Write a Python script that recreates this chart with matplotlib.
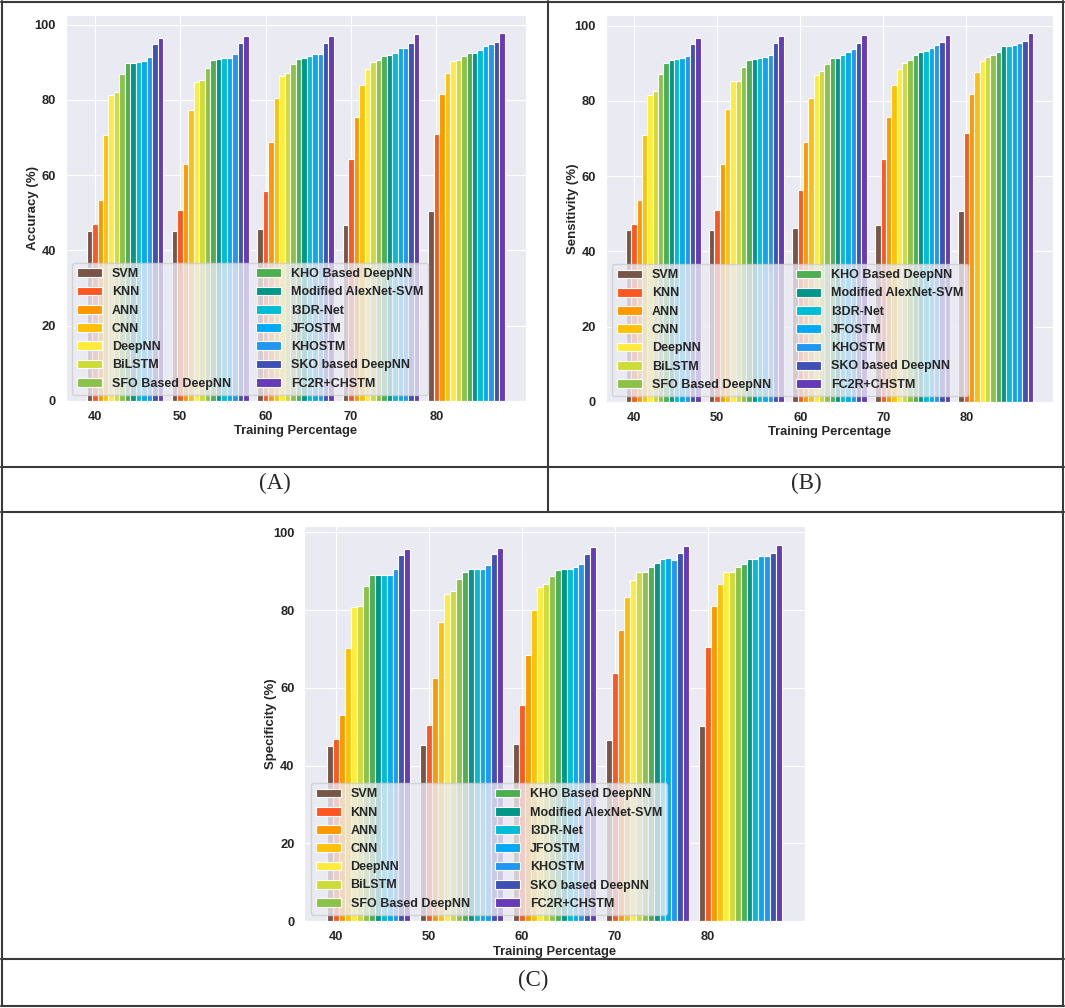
import matplotlib
matplotlib.use("Agg")
import matplotlib.pyplot as plt
import seaborn as sns
import numpy as np
from matplotlib.lines import Line2D

sns.set_style("darkgrid")
plt.rcParams['font.family'] = ['Liberation Sans', 'DejaVu Sans']

training = [40, 50, 60, 70, 80]
methods = ["SVM", "KNN", "ANN", "CNN", "DeepNN", "BiLSTM", "SFO Based DeepNN",
           "KHO Based DeepNN", "Modified AlexNet-SVM", "I3DR-Net", "JFOSTM",
           "KHOSTM", "SKO based DeepNN", "FC2R+CHSTM"]
colors = ["#795548", "#FF5722", "#FF9800", "#FFC107", "#FFEB3B", "#CDDC39",
          "#8BC34A", "#4CAF50", "#009688", "#00BCD4", "#03A9F4", "#2196F3",
          "#3F51B5", "#673AB7"]

# rows: methods, columns: training percentage 40..80
accuracy = [
    [45.2, 45.3, 45.7, 46.7, 50.4],
    [47.1, 50.7, 55.9, 64.3, 71.0],
    [53.3, 62.9, 68.9, 75.5, 81.6],
    [70.6, 77.4, 80.5, 83.9, 87.3],
    [81.3, 84.9, 86.5, 88.2, 90.3],
    [82.0, 85.2, 87.2, 90.0, 90.7],
    [86.9, 88.6, 89.5, 90.5, 91.8],
    [89.7, 90.5, 91.0, 91.8, 92.6],
    [89.8, 90.8, 91.2, 92.0, 92.6],
    [90.2, 91.1, 91.7, 92.4, 93.4],
    [90.3, 91.2, 92.2, 93.8, 94.4],
    [91.5, 92.1, 92.1, 93.8, 94.8],
    [94.9, 95.2, 95.2, 95.2, 95.5],
    [96.4, 96.9, 97.0, 97.6, 97.7],
]
sensitivity = [
    [45.6, 45.7, 46.1, 47.1, 50.8],
    [47.4, 51.0, 56.2, 64.6, 71.4],
    [53.7, 63.1, 69.1, 75.8, 81.9],
    [71.0, 77.7, 80.8, 84.1, 87.7],
    [81.6, 85.2, 86.8, 88.5, 90.6],
    [82.7, 85.2, 87.9, 90.0, 91.6],
    [87.2, 88.9, 89.8, 90.8, 92.2],
    [90.0, 90.9, 91.4, 92.1, 92.9],
    [90.9, 91.0, 91.5, 93.0, 94.5],
    [91.2, 91.3, 92.3, 93.1, 94.5],
    [91.4, 91.6, 93.0, 94.0, 94.8],
    [91.8, 92.3, 93.8, 94.7, 95.3],
    [95.2, 95.4, 95.4, 95.5, 95.8],
    [96.7, 97.2, 97.6, 97.6, 97.9],
]
specificity = [
    [45.0, 45.2, 45.6, 46.6, 50.2],
    [46.9, 50.4, 55.6, 63.9, 70.6],
    [53.0, 62.4, 68.5, 75.0, 81.1],
    [70.2, 76.9, 80.0, 83.3, 86.8],
    [80.8, 84.2, 86.0, 87.7, 89.8],
    [81.1, 84.8, 86.8, 89.9, 89.9],
    [86.2, 88.0, 88.9, 89.9, 91.2],
    [89.0, 89.9, 90.3, 91.1, 91.9],
    [89.0, 90.5, 90.5, 92.2, 93.2],
    [89.0, 90.5, 90.5, 93.1, 93.2],
    [89.0, 90.7, 91.2, 93.4, 93.9],
    [90.5, 91.7, 91.8, 92.8, 93.9],
    [94.2, 94.5, 94.5, 94.6, 94.8],
    [95.7, 96.1, 96.3, 96.5, 96.8],
]

W, H = 1065, 1008
fig = plt.figure(figsize=(W / 100, H / 100), dpi=100)
fig.patch.set_facecolor("white")


def px_axes(l, t, r, b):
    return fig.add_axes([l / W, 1 - b / H, (r - l) / W, (b - t) / H])


bar_w = 0.64
x = np.array(training, dtype=float)


def draw(ax, data, ylabel):
    for i, (name, col) in enumerate(zip(methods, colors)):
        ax.bar(x + (i - 1) * bar_w, data[i], width=bar_w, color=col,
               label=name, edgecolor="white", linewidth=0.8)
    ax.set_xticks(training)
    ax.set_xticklabels([str(t) for t in training], fontsize=9.3,
                       fontweight="bold")
    ax.set_yticks([0, 20, 40, 60, 80, 100])
    ax.set_yticklabels(["0", "20", "40", "60", "80", "100"], fontsize=9.3,
                       fontweight="bold")
    ax.set_xlabel("Training Percentage", fontsize=9.3, fontweight="bold",
                  labelpad=2)
    ax.set_ylabel(ylabel, fontsize=9.5, fontweight="bold", labelpad=-3)
    ax.legend(loc="lower left", ncol=2, prop={"size": 9, "weight": "bold"})


axA = px_axes(65.7, 15, 525.7, 401)
draw(axA, accuracy, "Accuracy (%)")
axB = px_axes(605.7, 15, 1053.3, 402)
draw(axB, sensitivity, "Sensitivity (%)")
axC = px_axes(304.3, 526, 805, 921)
draw(axC, specificity, "Specificity (%)")

# table frame
lc = "#3a3a3a"
lw = 1.5


def hline(y, x0, x1):
    fig.add_artist(Line2D([x0 / W, x1 / W], [1 - y / H, 1 - y / H],
                          color=lc, lw=lw, transform=fig.transFigure))


def vline(xp, y0, y1):
    fig.add_artist(Line2D([xp / W, xp / W], [1 - y0 / H, 1 - y1 / H],
                          color=lc, lw=lw, transform=fig.transFigure))


hline(1.5, 1, 1063.5)
hline(1005.5, 1, 1063.5)
vline(1.5, 1, 1005.5)
vline(1063, 1, 1005.5)
hline(466.7, 1, 1063.5)
hline(512, 1, 1063.5)
hline(959.3, 1, 1063.5)
vline(548.3, 1, 512)

serif = ["Liberation Serif", "DejaVu Serif"]
fig.text(274.5 / W, 1 - 483 / H, "(A)", ha="center", va="center",
         fontsize=16.5, family=serif)
fig.text(806 / W, 1 - 483 / H, "(B)", ha="center", va="center",
         fontsize=16.5, family=serif)
fig.text(533 / W, 1 - 980 / H, "(C)", ha="center", va="center",
         fontsize=16.5, family=serif)

fig.savefig("out.png", dpi=100, facecolor="white")
